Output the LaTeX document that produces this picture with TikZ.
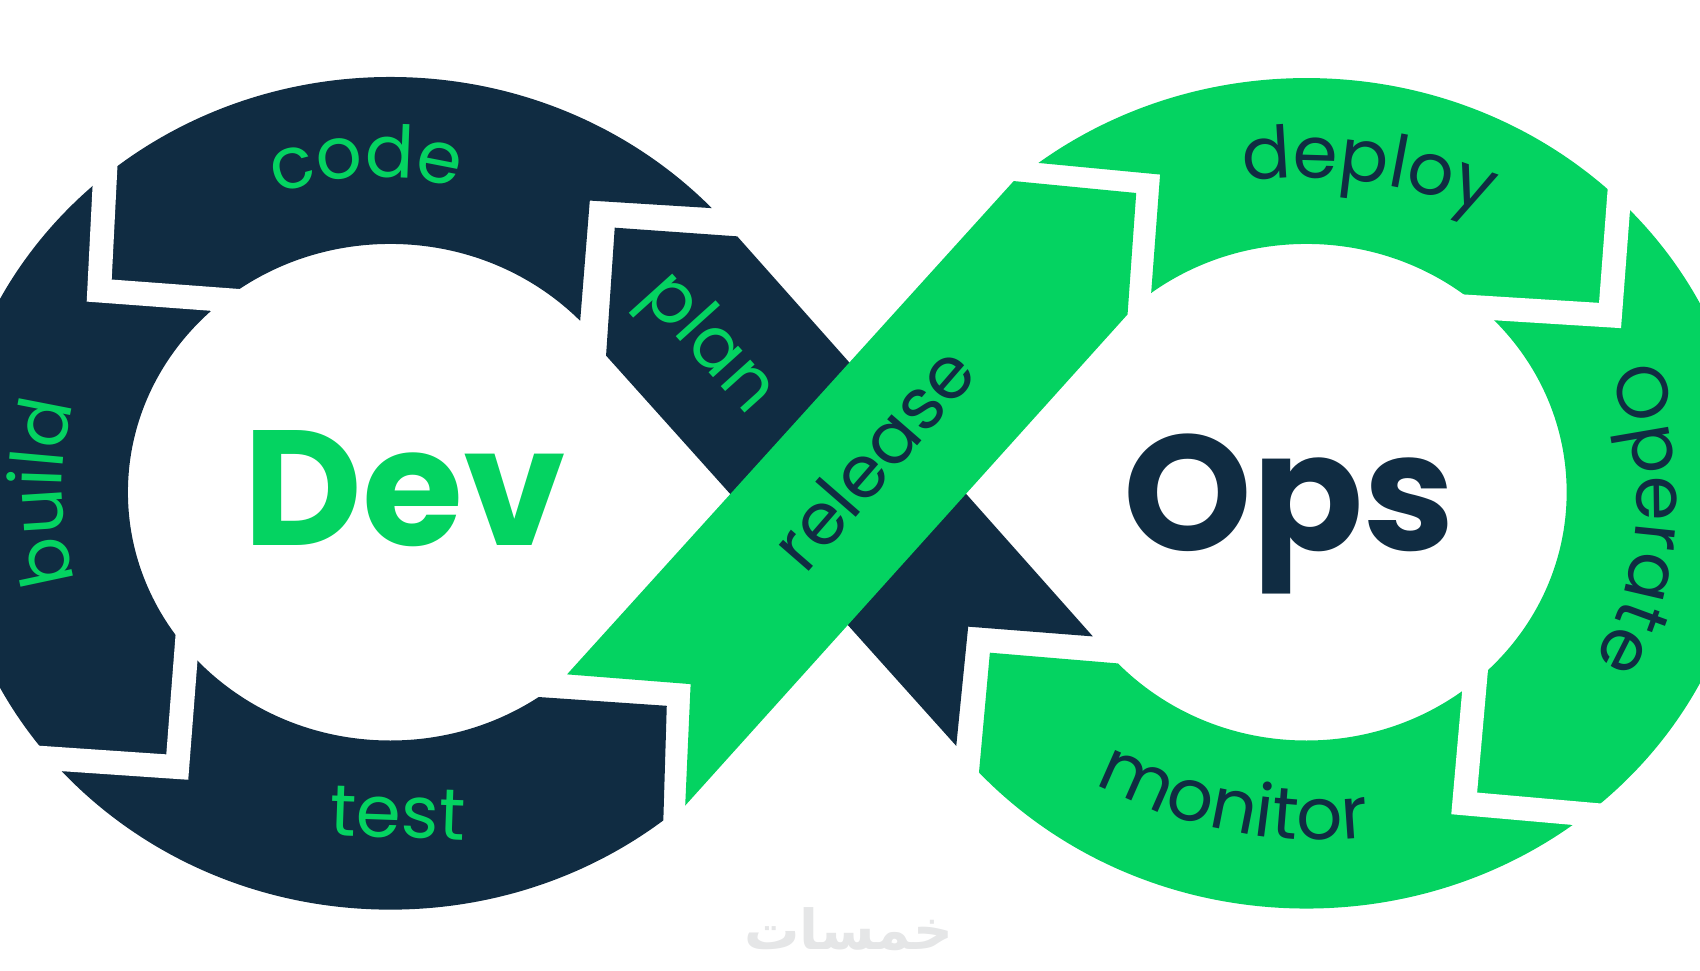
\documentclass[tikz,border=0pt]{standalone}
\usepackage{fontspec}
\usetikzlibrary{decorations.text}
\setmainfont{Poppins}
\newfontfamily\arabicfont[Script=Arabic]{DejaVu Sans}
\TeXXeTstate=1
\definecolor{navy}{RGB}{16,44,66}
\definecolor{mint}{RGB}{4,211,97}
\definecolor{wmark}{RGB}{229,230,231}
\newcommand\lblfont{\fontsize{38}{40}\selectfont}

\begin{document}
\begin{tikzpicture}[x=0.02cm,y=-0.02cm,
  gap/.style={draw=white,line width=0.44cm},
  lbl/.style={font=\lblfont,inner sep=0pt},
  bent/.style={decorate,decoration={text along path,text align=center,text color=#1}},
  big/.style={font=\fontsize{86}{90}\selectfont\bfseries,inner sep=0pt,anchor=base}]
  \useasboundingbox (0,0) rectangle (1568,895);
  \begin{scope}
    \clip (-50,-50) -- (770,-50) -- (770,199) -- (544,185) -- (530,360) -- (440,639) -- (615,651) -- (606,950) -- (-50,950) -- cycle;
    \fill[navy,even odd rule] (360,455) ellipse [x radius=407,y radius=384] (360,454) ellipse [x radius=242,y radius=229];
  \end{scope}
  \draw[gap] (99,120) -- (91.5,268) -- (260,280.5);
  \draw[gap] (176.5,540) -- (163.5,707.5) -- (-20,695);
  \begin{scope}
    \clip (850,-50) -- (850,140) -- (1070,161) -- (1055,360) -- (1080,616) -- (913,602) -- (895,800) -- (895,950) -- (1700,950) -- (1700,-50) -- cycle;
    \fill[mint,even odd rule] (1205,455) ellipse [x radius=408,y radius=383] (1205,454) ellipse [x radius=240,y radius=229];
  \end{scope}
  \draw[gap] (1498,120) -- (1485,291) -- (1300,279.5);
  \draw[gap] (1366.5,560) -- (1350.5,741) -- (1560,759.5);
  \fill[navy] (680,218) -- (567,210) -- (559,328) -- (882,688) -- (893,578) -- (1008,587) -- cycle;
  \fill[mint] (523,622) -- (637,631) -- (632,743) -- (1040,290) -- (1048,178) -- (935,167) -- cycle;
  \path[bent=mint,decoration={text={|\lblfont|code}}] ([shift={(348,445)}]132:5.64cm) arc [start angle=132,end angle=52,radius=5.64cm];
  \path[bent=mint,decoration={text={|\lblfont|build}}] ([shift={(357,452)}]210.5:6cm) arc [start angle=210.5,end angle=150.5,radius=6cm];
  \path[bent=navy,decoration={text={|\lblfont|deploy}}] ([shift={(1199,634)}]117.4:9.4cm) arc [start angle=117.4,end angle=47.4,radius=9.4cm];
  \path[bent=navy,decoration={text={|\lblfont|Operate}}] ([shift={(1230,465)}]32:5.6cm) arc [start angle=32,end angle=-38,radius=5.6cm];
  \path[bent=navy,decoration={text={|\lblfont|monitor}}] ([shift={(1220,330)}]228.7:8.9cm) arc [start angle=228.7,end angle=288.7,radius=8.9cm];
  \draw (652,318) node[lbl,text=mint,rotate=-48] (plan) {plan};
  \draw (367,750) node[lbl,text=mint,rotate=-2] (test) {test};
  \draw (805,422) node[lbl,text=navy,rotate=49] (release) {release};
  \draw (373,503) node[big,text=mint] (dev) {Dev};
  \draw (1189,508) node[big,text=navy] (ops) {Ops};
  \draw (783,857) node[text=wmark,font=\arabicfont\bfseries\fontsize{29}{31}\selectfont] (mark) {\beginR خمسات\endR};
\end{tikzpicture}
\end{document}
